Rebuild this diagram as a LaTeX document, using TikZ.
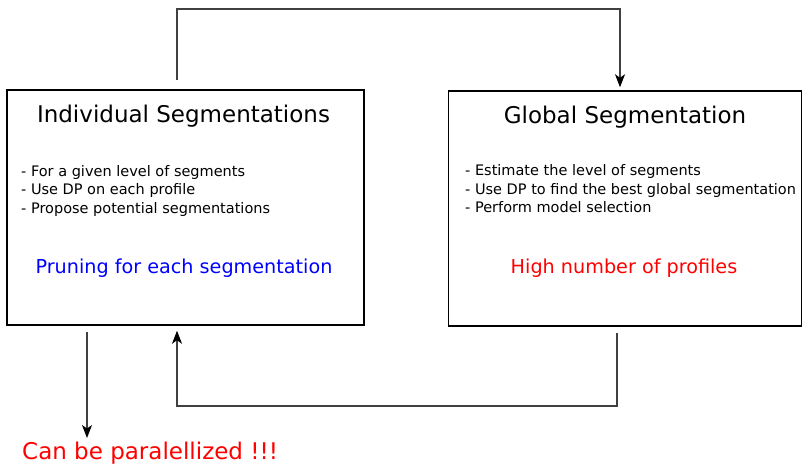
\documentclass[tikz,border=0pt]{standalone}
\usepackage{fontspec}
\setmainfont{DejaVu Sans}
\usetikzlibrary{arrows.meta}
\tikzset{
  box/.style={draw=black, line width=1.5pt, minimum width=#1, minimum height=235pt, inner sep=0pt, fill=white},
  ttl/.style={font=\fontsize{23}{26}\selectfont, inner sep=0pt},
  items/.style={font=\fontsize{14.5}{18.5}\selectfont, align=left, anchor=north west, inner sep=0pt},
  note/.style={font=\fontsize{19.2}{22}\selectfont, inner sep=0pt},
  conn/.style={draw=black!75, line width=1.1pt, -{Stealth[length=13pt,width=10pt,inset=3.5pt,color=black]}},
}
\begin{document}
\begin{tikzpicture}[x=1pt,y=-1pt]
\useasboundingbox (0,0) rectangle (802,466);
\node[box=357pt] (A) at (185.5,207.5) {};
\node[box=353pt] (B) at (625,208.5) {};
\node[ttl] (At) at (183.5,116) {Individual Segmentations};
\node[ttl] (Bt) at (625,117) {Global Segmentation};
\node[items] (Ai) at (21,165) {- For a given level of segments\\- Use DP on each profile\\- Propose potential segmentations};
\node[items] (Bi) at (465,164.5) {- Estimate the level of segments\\- Use DP to find the best global segmentation\\- Perform model selection};
\node[note, text=blue] (Ap) at (184,268) {Pruning for each segmentation};
\node[note, text=red] (Bp) at (624,268) {High number of profiles};
\node[font=\fontsize{23}{26}\selectfont, inner sep=0pt, text=red, anchor=west] (C) at (22,453) {Can be paralellized !!!};
\coordinate (xL) at (177,0);
\coordinate (xR) at (620,0);
\coordinate (xRb) at (617,0);
\coordinate (xC) at (87,0);
\coordinate (topY) at (0,9);
\coordinate (botY) at (0,406);
\coordinate (Ctop) at (87,438);
\draw[conn, shorten <=9pt, shorten >=3pt] (A.north -| xL) -- (xL |- topY) -- (xR |- topY) -- (B.north -| xR);
\draw[conn, shorten <=6pt, shorten >=5pt] (B.south -| xRb) -- (xRb |- botY) -- (xL |- botY) -- (A.south -| xL);
\draw[conn, shorten <=6pt] (A.south -| xC) -- (Ctop);
\end{tikzpicture}
\end{document}
